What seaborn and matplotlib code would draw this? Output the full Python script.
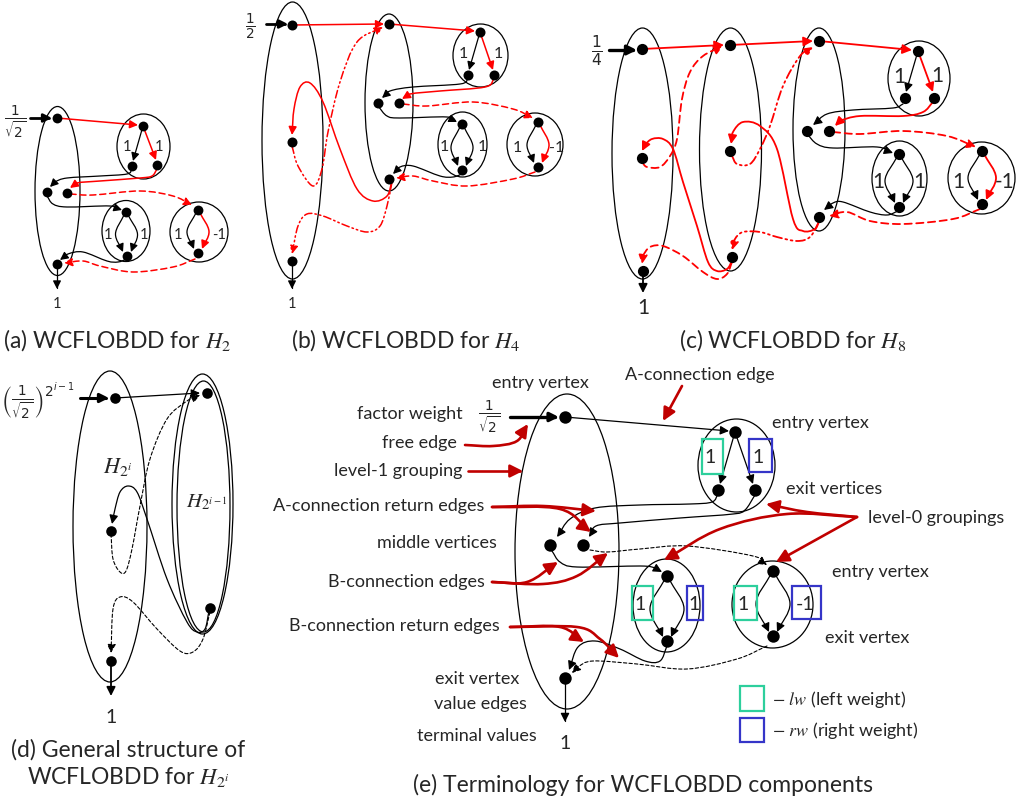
import numpy as np
import matplotlib
matplotlib.use("Agg")
import matplotlib.pyplot as plt
import seaborn as sns
from matplotlib.patches import Ellipse, FancyArrowPatch, Rectangle
from matplotlib.path import Path

# textos del diagrama
captions = ["(a) WCFLOBDD for $H_2$", "(b) WCFLOBDD for $H_4$", "(c) WCFLOBDD for $H_8$",
            "(d) General structure of", "WCFLOBDD for $H_{2^i}$",
            "(e) Terminology for WCFLOBDD components"]
factor_weights = [r"$\frac{1}{\sqrt{2}}$", r"$\frac{1}{2}$", r"$\frac{1}{4}$"]
general_weight = r"$\left(\frac{1}{\sqrt{2}}\right)^{2^{i-1}}$"
group_names = [r"$H_{2^i}$", r"$H_{2^{i-1}}$"]
weights_top = ["1", "1"]
weights_mid = ["1", "1"]
weights_neg = ["1", "-1"]
terminal_value = "1"
labels_left = ["factor weight", "free edge", "level-1 grouping", "A-connection return edges",
               "middle vertices", "B-connection edges", "B-connection return edges",
               "exit vertex", "value edges", "terminal values"]
labels_right = ["A-connection edge", "entry vertex", "exit vertices", "level-0 groupings",
                "entry vertex", "exit vertex", "entry vertex"]
legend_labels = [r"$-\ lw$ (left weight)", r"$-\ rw$ (right weight)"]

RED = "#ff0000"
DARKRED = "#c00000"
GREEN = "#2dcf9c"
BLUE = "#3535c8"
DASH = (0, (4, 2.5))
DASHDOT = (0, (5, 2, 1, 2, 1, 2))
FINE = (0, (3, 2))

sns.set_theme(style="white")
plt.rcParams["font.family"] = ["Lato", "DejaVu Sans"]
plt.rcParams["mathtext.fontset"] = "stix"

fig = plt.figure(figsize=(10.24, 8.04), dpi=100)
ax = fig.add_axes([0, 0, 1, 1])


def cr_path(pts):
    P = np.array(pts, float)
    if len(P) == 2:
        return Path(P, [Path.MOVETO, Path.LINETO])
    ext = np.vstack([P[0] * 2 - P[1], P, P[-1] * 2 - P[-2]])
    verts = [P[0]]
    codes = [Path.MOVETO]
    for i in range(1, len(ext) - 2):
        p0, p1, p2, p3 = ext[i - 1], ext[i], ext[i + 1], ext[i + 2]
        verts += [p1 + (p2 - p0) / 6, p2 - (p3 - p1) / 6, p2]
        codes += [Path.CURVE4] * 3
    return Path(verts, codes)


def edge(pts, color="black", lw=0.9, ls="-", ms=12, head=True):
    ap = FancyArrowPatch(path=cr_path(pts), arrowstyle="-|>" if head else "-",
                         mutation_scale=ms, color=color, lw=lw, linestyle=ls, zorder=3)
    ax.add_patch(ap)


def ell(cx, cy, w, h, lw=0.9):
    ax.add_patch(Ellipse((cx, cy), w, h, fill=False, ec="black", lw=lw, zorder=2))


def arc(p0, p1, side, b, color="black", lw=0.9, ms=12):
    mid = ((p0[0] + p1[0]) / 2 + side * b, (p0[1] + p1[1]) / 2)
    edge([(p0[0] + side * 2, p0[1] + 3), mid, (p1[0] + side * 4, p1[1] - 4)], color, lw, ms=ms)


def dots(pts, s):
    xs = [p[0] for p in pts]
    ys = [p[1] for p in pts]
    sns.scatterplot(x=xs, y=ys, s=s, color="black", linewidth=0, ax=ax, zorder=5, legend=False)


def box(x0, y0, x1, y1, color):
    ax.add_patch(Rectangle((x0, y0), x1 - x0, y1 - y0, fill=False, ec=color, lw=1.6, zorder=4))


# ---------------- (a) H2 ----------------
ell(57.5, 192, 45, 169)
ell(143.5, 147.5, 53, 65)
ell(126, 232, 48, 61)
ell(199, 233, 58, 60)
edge([(30, 119), (52, 119)], lw=2, ms=12)
ax.text(15, 122, factor_weights[0], fontsize=14, ha="center", va="center", math_fontfamily="dejavusans")
edge([(57, 119), (138, 126)], RED, 1.1)
edge([(143, 127), (133, 162)])
edge([(143, 127), (156, 161)], RED, 1.1)
edge([(132, 170), (127, 175), (100, 177), (67, 179), (55, 183), (50, 188)])
edge([(157, 170), (152, 177), (140, 179), (100, 182), (77, 184), (70, 189)], RED, 1.1)
edge([(47, 197), (53, 205), (67, 208), (110, 207), (122, 211)])
edge([(70, 195), (93, 196), (140, 192), (173, 197), (192, 206)], RED, 1.1, DASH)
arc((126, 213), (127, 257), -1, 11)
arc((126, 213), (127, 257), 1, 11)
arc((198, 211), (198, 254), -1, 11)
arc((198, 211), (198, 254), 1, 11, RED, 1.1)
edge([(127, 260), (118, 263), (107, 262), (83, 253), (68, 255), (60, 261)])
edge([(195, 260), (173, 268), (133, 273), (100, 267), (83, 262), (64, 264)], RED, 1.1, DASH)
edge([(57, 265), (57, 290)])
ax.text(57, 304, terminal_value, fontsize=10.5, ha="center", va="center")
for (x, y), t in zip([(127, 147), (159, 147)], weights_top):
    ax.text(x, y, t, fontsize=10.5, ha="center", va="center")
for (x, y), t in zip([(108, 235), (144, 235)], weights_mid):
    ax.text(x, y, t, fontsize=10.5, ha="center", va="center")
for (x, y), t in zip([(178, 235), (219, 235)], weights_neg):
    ax.text(x, y, t, fontsize=10.5, ha="center", va="center")
dots([(57, 119), (47, 193), (67, 194), (57, 265), (143, 127), (132, 167), (157, 166),
      (126, 213), (127, 257), (198, 211), (198, 254)], 50)

# ---------------- (b) H4 ----------------
ell(292.5, 141.5, 61, 277)
ell(389, 103.5, 48, 177)
ell(480.5, 56.5, 55, 63)
ell(462.5, 145.5, 49, 65)
ell(535, 145.5, 56, 63)
edge([(266, 25), (288, 25)], lw=2, ms=12)
ax.text(250, 27, factor_weights[1], fontsize=14, ha="center", va="center", math_fontfamily="dejavusans")
edge([(292, 26), (384, 25)], RED, 1.1)
edge([(389, 25), (475, 32)], RED, 1.1)
edge([(480, 33), (469, 71)])
edge([(480, 33), (493, 71)], RED, 1.1)
edge([(468, 80), (460, 85), (413, 88), (390, 92), (382, 99)])
edge([(494, 80), (485, 88), (440, 92), (410, 95), (402, 100)], RED, 1.1)
edge([(378, 107), (387, 117), (400, 119), (447, 118), (457, 123)])
edge([(403, 105), (427, 107), (473, 103), (513, 110), (533, 119)], RED, 1.1, DASH)
arc((462, 125), (462, 171), -1, 11)
arc((462, 125), (462, 171), 1, 11)
arc((538, 123), (538, 168), -1, 11)
arc((538, 123), (538, 168), 1, 11, RED, 1.1)
edge([(462, 175), (453, 178), (440, 177), (413, 167), (400, 168), (393, 175)])
edge([(535, 173), (513, 180), (467, 187), (433, 182), (413, 177), (396, 179)], RED, 1.1, DASH)
edge([(392, 182), (387, 197), (373, 202), (357, 190), (340, 150), (323, 103), (310, 84),
      (300, 88), (294, 110), (292, 136)], RED, 1.1)
edge([(292, 147), (298, 167), (313, 187), (322, 170), (328, 133), (340, 83), (357, 43),
      (383, 28)], RED, 1.1, DASHDOT)
edge([(392, 183), (387, 207), (380, 227), (367, 233), (347, 227), (323, 217), (307, 215),
      (298, 227), (292, 255)], RED, 1.1, DASHDOT)
edge([(292, 262), (292, 290)])
ax.text(292, 304, terminal_value, fontsize=10.5, ha="center", va="center")
for (x, y), t in zip([(463, 54), (498, 54)], weights_top):
    ax.text(x, y, t, fontsize=11.5, ha="center", va="center")
for (x, y), t in zip([(444, 147), (482, 147)], weights_mid):
    ax.text(x, y, t, fontsize=11.5, ha="center", va="center")
for (x, y), t in zip([(517, 148), (557, 148)], weights_neg):
    ax.text(x, y, t, fontsize=11.5, ha="center", va="center")
dots([(292, 26), (292, 143), (292, 262), (389, 25), (378, 104), (399, 104), (389, 180),
      (480, 33), (468, 76), (494, 76), (462, 125), (462, 171), (538, 123), (538, 168)], 52)

# ---------------- (c) H8 ----------------
ell(642.5, 154.5, 61, 251)
ell(730.5, 150.5, 62, 243)
ell(819, 130.5, 52, 203)
ell(919, 79.5, 62, 75)
ell(899.5, 179.5, 55, 75)
ell(981.5, 179, 67, 72)
edge([(609, 51), (637, 51)], lw=2.4, ms=14)
ax.text(597, 51, factor_weights[2], fontsize=16, ha="center", va="center", math_fontfamily="dejavusans")
edge([(642, 50), (724, 46)], RED, 1.3, ms=14)
edge([(730, 46), (813, 42)], RED, 1.3, ms=14)
edge([(819, 42), (912, 51)], RED, 1.3, ms=14)
edge([(918, 52), (906, 93)], ms=13)
edge([(918, 52), (933, 93)], RED, 1.3, ms=13)
edge([(903, 105), (893, 109), (853, 111), (827, 115), (813, 126)], ms=13)
edge([(933, 103), (923, 113), (903, 117), (860, 117), (840, 122), (835, 127)], RED, 1.3, ms=13)
edge([(807, 135), (817, 145), (833, 149), (877, 148), (893, 154)], ms=13)
edge([(833, 133), (860, 135), (903, 132), (947, 137), (976, 148)], RED, 1.3, DASH, ms=13)
arc((899, 155), (899, 208), -1, 14, ms=13)
arc((899, 155), (899, 208), 1, 14, ms=13)
arc((982, 152), (982, 205), -1, 14, ms=13)
arc((982, 152), (982, 205), 1, 14, RED, 1.3, ms=13)
edge([(898, 212), (887, 216), (870, 213), (843, 203), (833, 204), (824, 211)], ms=13)
edge([(980, 210), (953, 220), (903, 225), (870, 222), (847, 213), (829, 217)], RED, 1.3, DASH, ms=13)
edge([(819, 222), (815, 230), (803, 232), (793, 220), (777, 150), (760, 127), (743, 123),
      (733, 133), (731, 145)], RED, 1.3, ms=13)
edge([(732, 157), (737, 165), (750, 165), (760, 150), (770, 127), (783, 87), (800, 57),
      (813, 48)], RED, 1.3, DASHDOT, ms=13)
edge([(819, 223), (810, 238), (797, 242), (777, 238), (760, 233), (743, 233), (735, 240),
      (732, 251)], RED, 1.3, DASHDOT, ms=13)
edge([(732, 262), (727, 270), (717, 272), (708, 263), (697, 227), (683, 183), (673, 150),
      (663, 140), (652, 140), (645, 146), (642, 152)], RED, 1.3, ms=13)
edge([(642, 163), (647, 168), (660, 168), (670, 157), (677, 140), (682, 100), (690, 73),
      (703, 57), (723, 47)], RED, 1.3, DASH, ms=13)
edge([(732, 263), (727, 275), (717, 280), (703, 273), (683, 257), (663, 247), (650, 248),
      (643, 257), (642, 265)], RED, 1.3, DASH, ms=13)
edge([(643, 272), (643, 294)], lw=1.3, ms=13)
ax.text(643, 308, terminal_value, fontsize=15, ha="center", va="center")
for (x, y), t in zip([(899, 77), (937, 76)], weights_top):
    ax.text(x, y, t, fontsize=15, ha="center", va="center")
for (x, y), t in zip([(878, 182), (919, 182)], weights_mid):
    ax.text(x, y, t, fontsize=15, ha="center", va="center")
for (x, y), t in zip([(958, 182), (1005, 182)], weights_neg):
    ax.text(x, y, t, fontsize=15, ha="center", va="center")
dots([(642, 50), (642, 159), (643, 272), (730, 46), (730, 152), (732, 258), (819, 42),
      (807, 132), (829, 132), (819, 218), (918, 52), (905, 99), (934, 99), (899, 155),
      (899, 208), (982, 152), (982, 205)], 65)

# ---------------- (d) estructura general ----------------
ell(110, 527.5, 74, 311)
ell(202.5, 505, 61, 260)
ell(203.5, 507.5, 53, 251)
edge([(80, 399), (109, 399)], lw=2.2, ms=13)
ax.text(38, 402, general_weight, fontsize=14, ha="center", va="center", math_fontfamily="dejavusans")
ax.text(118, 467, group_names[0], fontsize=16, ha="center", va="center")
ax.text(207, 502, group_names[1], fontsize=15, ha="center", va="center")
edge([(115, 399), (200, 394)], ms=13)
edge([(209, 612), (205, 630), (197, 633), (187, 623), (167, 580), (147, 520), (137, 493),
      (128, 487), (120, 493), (115, 510), (112, 525)], ms=13)
edge([(111, 535), (113, 560), (120, 573), (126, 572), (132, 550), (140, 507), (150, 460),
      (167, 420), (187, 402), (200, 396)], lw=0.8, ls=FINE, ms=13)
edge([(210, 613), (203, 640), (193, 653), (180, 652), (157, 630), (133, 603), (120, 598),
      (113, 610), (111, 654)], lw=0.8, ls=FINE, ms=13)
edge([(111, 662), (111, 697)], lw=1.3, ms=13)
ax.text(111, 718, terminal_value, fontsize=14, ha="center", va="center")
dots([(115, 399), (111, 532), (111, 662), (207, 394), (210, 609)], 58)

# ---------------- (e) terminologia ----------------
ell(567, 552.5, 104, 315)
ell(736.5, 466.5, 77, 93)
ell(666.5, 606.5, 67, 93)
ell(772.5, 605.5, 81, 87)
edge([(510, 418), (559, 418)], lw=2.4, ms=13)
ax.text(489, 417, factor_weights[0], fontsize=14, ha="center", va="center", math_fontfamily="dejavusans")
edge([(565, 418), (729, 432)], ms=13)
edge([(735, 433), (720, 485)], ms=13)
edge([(735, 433), (753, 485)], ms=13)
edge([(718, 495), (712, 503), (690, 505), (640, 506), (595, 509), (570, 520), (557, 538)], ms=13)
edge([(755, 496), (745, 511), (733, 515), (680, 519), (620, 524), (596, 527), (589, 538)], ms=13)
edge([(552, 552), (560, 563), (577, 568), (640, 567), (655, 569), (662, 573)], ms=13)
edge([(590, 551), (607, 553), (640, 550), (687, 547), (753, 557), (767, 566)], lw=0.8,
     ls=FINE, ms=13)
arc((667, 577), (667, 642), -1, 17, ms=13)
arc((667, 577), (667, 642), 1, 17, ms=13)
arc((773, 572), (773, 637), -1, 17, ms=13)
arc((773, 572), (773, 637), 1, 17, ms=13)
edge([(667, 647), (660, 662), (645, 662), (620, 650), (595, 642), (578, 648), (569, 671)], ms=13)
edge([(767, 647), (737, 660), (687, 670), (637, 665), (593, 662), (578, 668), (572, 674)],
     lw=0.8, ls=FINE, ms=13)
edge([(565, 679), (565, 723)], ms=13)
ax.text(565, 744, terminal_value, fontsize=14, ha="center", va="center")
dots([(565, 418), (550, 546), (583, 546), (565, 679), (735, 433), (718, 491), (755, 491),
      (667, 577), (667, 642), (773, 572), (773, 637)], 80)

# cajas de pesos
for (x0, y0, x1, y1), c in zip([(702, 440, 723, 475), (749, 440, 772, 473),
                                (632, 587, 653, 621), (687, 587, 703, 621),
                                (734, 587, 757, 621), (792, 587, 821, 620)],
                               [GREEN, BLUE] * 3):
    box(x0, y0, x1, y1, c)
for (x, y), t in zip([(710, 458), (758, 458), (640, 605), (694, 605), (743, 605), (805, 605)],
                     weights_top + weights_mid + weights_neg):
    ax.text(x, y, t, fontsize=14, ha="center", va="center")

# flechas de anotacion
ann = dict(color=DARKRED, lw=1.9, ms=19)
edge([(465, 446), (493, 447), (517, 442), (528, 425)], **ann)
edge([(468, 472), (523, 472)], **ann)
edge([(492, 508), (543, 507), (596, 512)], **ann)
edge([(492, 508), (560, 510), (591, 533)], **ann)
edge([(492, 583), (527, 583), (558, 563)], **ann)
edge([(492, 583), (543, 585), (577, 577), (608, 554)], **ann)
edge([(510, 628), (560, 628), (584, 643)], **ann)
edge([(510, 628), (577, 628), (600, 640), (619, 659)], **ann)
edge([(682, 387), (663, 422)], **ann)
edge([(857, 518), (807, 513), (766, 505)], **ann)
edge([(857, 518), (787, 515), (720, 530), (664, 561)], **ann)
edge([(857, 518), (776, 563)], **ann)

# etiquetas
left_pos = [(463, 414), (457, 443), (462, 471), (484, 506), (497, 543), (485, 582),
            (500, 626), (519, 679), (527, 704), (537, 736)]
for (x, y), t in zip(left_pos, labels_left):
    ax.text(x, y, t, fontsize=13, ha="right", va="center")
right_pos = [(625, 375), (772, 423), (786, 489), (868, 518), (832, 572), (825, 638), (540, 383)]
for (x, y), t in zip(right_pos, labels_right):
    ax.text(x, y, t, fontsize=13, ha="center" if x == 540 else "left", va="center")

# leyenda
box(740, 687, 764, 712, GREEN)
box(740, 719, 764, 743, BLUE)
ax.text(772, 700, legend_labels[0], fontsize=13, ha="left", va="center")
ax.text(772, 731, legend_labels[1], fontsize=13, ha="left", va="center")

# titulos
for (x, y), t in zip([(117, 340), (406, 340), (793, 340), (128, 750), (128, 777), (643, 785)],
                     captions):
    ax.text(x, y, t, fontsize=16.5, ha="center", va="center")

ax.set_xlim(0, 1024)
ax.set_ylim(804, 0)
ax.axis("off")
fig.savefig("out.png", dpi=100)
